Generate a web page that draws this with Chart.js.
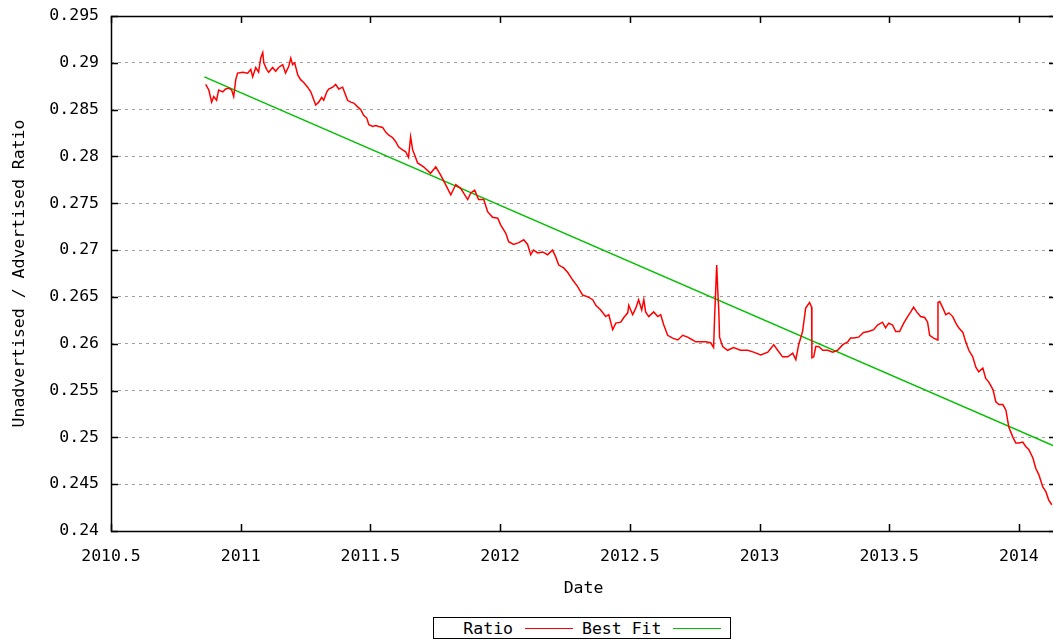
<!DOCTYPE html>
<html>
<head>
<meta charset="utf-8">
<title>Unadvertised / Advertised Ratio</title>
<script src="https://cdn.jsdelivr.net/npm/chart.js@4.4.0/dist/chart.umd.min.js"></script>
<style>
  html, body { margin: 0; padding: 0; background: #fff; overflow: hidden; }
  #wrap { position: relative; width: 1053px; height: 641px; overflow: hidden; }
  #chart { display: block; }
  #legend {
    position: absolute; left: 433px; top: 617px; height: 20px;
    border: 1px solid #000; background: #fff;
    display: flex; align-items: center;
    font: 16.5px "DejaVu Sans Mono", monospace; color: #000;
  }
  #legend .item { display: flex; align-items: center; }
  #legend .label { width: 79px; text-align: right; white-space: nowrap; }
  #legend .sample { width: 48px; height: 0; margin: 0 9px 0 12px; border-top: 1.5px solid; }
</style>
</head>
<body>
<div id="wrap">
  <canvas id="chart" width="1058" height="641"></canvas>
  <div id="legend"></div>
</div>
<script>
// daily ratio
const ratioDates = [
  2010.865,2010.877,2010.888,2010.896,2010.907,2010.915,2010.931,2010.942,2010.954,2010.965,
  2010.973,2010.981,2010.988,2011.008,2011.027,2011.039,2011.046,2011.058,2011.069,2011.077,
  2011.085,2011.089,2011.100,2011.108,2011.123,2011.135,2011.146,2011.162,2011.173,2011.185,
  2011.193,2011.200,2011.208,2011.220,2011.231,2011.243,2011.258,2011.270,2011.277,2011.289,
  2011.301,2011.312,2011.320,2011.332,2011.339,2011.355,2011.366,2011.378,2011.393,2011.401,
  2011.412,2011.424,2011.436,2011.451,2011.463,2011.474,2011.486,2011.494,2011.509,2011.520,
  2011.532,2011.547,2011.559,2011.570,2011.586,2011.597,2011.609,2011.624,2011.636,2011.647,
  2011.655,2011.663,2011.670,
  2011.682,2011.705,2011.732,2011.752,2011.771,2011.790,2011.810,2011.829,2011.848,2011.875,
  2011.887,2011.902,2011.917,2011.937,2011.952,2011.971,2011.991,2012.002,2012.022,2012.033,
  2012.052,2012.072,2012.091,2012.106,2012.118,2012.129,2012.145,2012.164,2012.183,2012.202,
  2012.214,2012.226,2012.245,2012.261,2012.280,2012.299,2012.318,2012.338,2012.357,2012.369,
  2012.388,2012.407,2012.419,2012.434,2012.446,
  2012.465,2012.477,2012.492,2012.496,2012.511,2012.523,2012.534,2012.546,2012.554,2012.561,
  2012.573,2012.592,2012.608,2012.619,2012.631,2012.646,2012.665,2012.685,2012.704,2012.723,
  2012.742,2012.754,2012.773,2012.792,2012.812,2012.823,2012.827,2012.835,2012.839,2012.843,
  2012.846,2012.858,2012.877,2012.900,2012.927,2012.954,2012.977,2013.005,2013.032,2013.055,
  2013.070,2013.089,2013.109,2013.128,2013.140,2013.151,2013.166,2013.178,2013.193,2013.201,
  2013.202,2013.209,2013.217,2013.228,2013.244,2013.263,2013.282,2013.301,2013.321,2013.340,
  2013.351,
  2013.363,2013.382,2013.401,2013.420,2013.440,2013.455,2013.474,2013.486,2013.498,2013.513,
  2013.525,2013.540,2013.556,2013.571,2013.583,2013.594,2013.606,2013.621,2013.637,2013.648,
  2013.656,2013.671,2013.687,2013.688,2013.695,2013.707,2013.718,2013.730,2013.745,2013.757,
  2013.768,2013.784,2013.795,2013.807,2013.822,2013.834,2013.845,2013.861,2013.872,2013.884,
  2013.900,2013.911,2013.923,2013.938,2013.950,2013.961,2013.977,2013.988,2014.000,2014.015,
  2014.027,2014.038,2014.054,2014.065,2014.077,2014.092,2014.104,2014.115,2014.127
];
const ratioValues = [
  0.2877,0.2871,0.2858,0.2864,0.2860,0.2871,0.2869,0.2872,0.2873,0.2871,
  0.2864,0.2882,0.2889,0.2890,0.2889,0.2893,0.2885,0.2895,0.2890,0.2905,
  0.2911,0.2900,0.2893,0.2890,0.2895,0.2891,0.2895,0.2898,0.2889,0.2896,
  0.2905,0.2898,0.2900,0.2887,0.2882,0.2879,0.2874,0.2869,0.2864,0.2855,
  0.2858,0.2863,0.2860,0.2869,0.2872,0.2874,0.2877,0.2872,0.2874,0.2868,
  0.2860,0.2858,0.2857,0.2853,0.2850,0.2844,0.2841,0.2834,0.2832,0.2833,
  0.2832,0.2831,0.2826,0.2823,0.2820,0.2816,0.2810,0.2807,0.2805,0.2799,
  0.2821,0.2807,0.2802,
  0.2793,0.2789,0.2782,0.2789,0.2780,0.2770,0.2759,0.2770,0.2766,0.2754,
  0.2761,0.2764,0.2754,0.2754,0.2741,0.2735,0.2734,0.2727,0.2718,0.2709,
  0.2706,0.2708,0.2711,0.2706,0.2695,0.2700,0.2697,0.2698,0.2695,0.2700,
  0.2693,0.2684,0.2681,0.2676,0.2668,0.2661,0.2652,0.2650,0.2647,0.2641,
  0.2636,0.2629,0.2631,0.2615,0.2622,
  0.2623,0.2628,0.2633,0.2641,0.2631,0.2638,0.2647,0.2636,0.2647,0.2634,
  0.2629,0.2634,0.2629,0.2631,0.2620,0.2609,0.2606,0.2604,0.2609,0.2607,
  0.2604,0.2602,0.2602,0.2602,0.2601,0.2596,0.2629,0.2684,0.2657,0.2636,
  0.2607,0.2597,0.2593,0.2596,0.2593,0.2593,0.2591,0.2588,0.2591,0.2599,
  0.2593,0.2586,0.2586,0.2590,0.2583,0.2599,0.2613,0.2638,0.2644,0.2639,
  0.2585,0.2586,0.2597,0.2597,0.2593,0.2593,0.2591,0.2593,0.2599,0.2602,
  0.2606,
  0.2606,0.2607,0.2612,0.2613,0.2615,0.2620,0.2623,0.2617,0.2622,0.2620,
  0.2613,0.2613,0.2622,0.2629,0.2634,0.2639,0.2634,0.2629,0.2628,0.2623,
  0.2609,0.2606,0.2604,0.2644,0.2645,0.2638,0.2631,0.2633,0.2629,0.2622,
  0.2617,0.2612,0.2602,0.2593,0.2586,0.2575,0.2570,0.2574,0.2563,0.2559,
  0.2551,0.2538,0.2535,0.2535,0.2529,0.2511,0.2500,0.2494,0.2494,0.2495,
  0.2490,0.2487,0.2478,0.2467,0.2460,0.2447,0.2442,0.2433,0.2428
];

// least squares line, end points
const fitDates = [2010.86, 2014.143];
const fitValues = [0.2885, 0.2490];

const xTicks = [2010.5, 2011, 2011.5, 2012, 2012.5, 2013, 2013.5, 2014];
const yTicks = [0.24, 0.245, 0.25, 0.255, 0.26, 0.265, 0.27, 0.275, 0.28, 0.285, 0.29, 0.295];

const FONT = { family: '"DejaVu Sans Mono", monospace', size: 16.5 };

function pairs(xs, ys) {
  return xs.map((x, i) => ({ x: x, y: ys[i] }));
}

// gnuplot style box with inward ticks on all four sides
const framePlugin = {
  id: "frame",
  afterDatasetsDraw(chart) {
    const { ctx, chartArea: a, scales: { x, y } } = chart;
    const len = 7;
    ctx.save();
    ctx.strokeStyle = "#000";
    ctx.lineWidth = 1.5;
    ctx.beginPath();
    x.ticks.forEach(t => {
      const px = Math.round(x.getPixelForValue(t.value)) + 0.5;
      ctx.moveTo(px, a.bottom); ctx.lineTo(px, a.bottom - len);
      ctx.moveTo(px, a.top); ctx.lineTo(px, a.top + len);
    });
    y.ticks.forEach(t => {
      const py = Math.round(y.getPixelForValue(t.value)) + 0.5;
      ctx.moveTo(a.left, py); ctx.lineTo(a.left + len, py);
      ctx.moveTo(a.right, py); ctx.lineTo(a.right - len, py);
    });
    ctx.stroke();
    ctx.strokeRect(a.left + 0.5, a.top + 0.5, a.right - a.left, a.bottom - a.top);
    ctx.restore();
  }
};

const chart = new Chart(document.getElementById("chart"), {
  type: "line",
  data: {
    datasets: [
      {
        label: "Ratio",
        data: pairs(ratioDates, ratioValues),
        borderColor: "#ff0000",
        borderWidth: 1.5,
        pointRadius: 0,
        tension: 0
      },
      {
        label: "Best Fit",
        data: pairs(fitDates, fitValues),
        borderColor: "#00c000",
        borderWidth: 1.5,
        pointRadius: 0,
        tension: 0
      }
    ]
  },
  options: {
    responsive: false,
    animation: false,
    layout: { padding: { top: 16, left: 0, right: 2, bottom: 0 } },
    plugins: {
      legend: { display: false },
      tooltip: { enabled: false }
    },
    scales: {
      x: {
        type: "linear",
        min: 2010.5,
        max: 2014.143,
        afterBuildTicks: s => { s.ticks = xTicks.map(v => ({ value: v })); },
        afterFit: s => { s.height = 110; s.paddingRight = 0; },
        grid: { display: false, drawTicks: false },
        border: { display: false },
        ticks: {
          autoSkip: false, maxRotation: 0, padding: 16,
          color: "#000", font: FONT,
          callback: v => String(v)
        },
        title: {
          display: true, text: "Date", color: "#000", font: FONT,
          padding: { top: 0, bottom: 42 }
        }
      },
      y: {
        min: 0.24,
        max: 0.295,
        afterBuildTicks: s => { s.ticks = yTicks.map(v => ({ value: v })); },
        afterFit: s => { s.width = 111; s.paddingTop = 0; s.paddingBottom = 0; },
        grid: {
          drawTicks: false,
          color: c => (c.tick && (c.tick.value === 0.24 || c.tick.value === 0.295)) ? "rgba(0,0,0,0)" : "#a0a0a0",
          lineWidth: 1
        },
        border: { display: false, dash: [3, 4] },
        ticks: {
          autoSkip: false, padding: 12,
          color: "#000", font: FONT,
          callback: v => String(+v.toFixed(3))
        },
        title: {
          display: true, text: "Unadvertised / Advertised Ratio", color: "#000", font: FONT,
          padding: { top: 10, bottom: 0 }
        }
      }
    }
  },
  plugins: [framePlugin]
});

// legend in gnuplot order: text, then line sample
const legendEl = document.getElementById("legend");
chart.data.datasets.forEach(ds => {
  const item = document.createElement("span");
  item.className = "item";
  const label = document.createElement("span");
  label.className = "label";
  label.textContent = ds.label;
  const sample = document.createElement("span");
  sample.className = "sample";
  sample.style.borderTopColor = ds.borderColor;
  item.appendChild(label);
  item.appendChild(sample);
  legendEl.appendChild(item);
});
</script>
</body>
</html>
